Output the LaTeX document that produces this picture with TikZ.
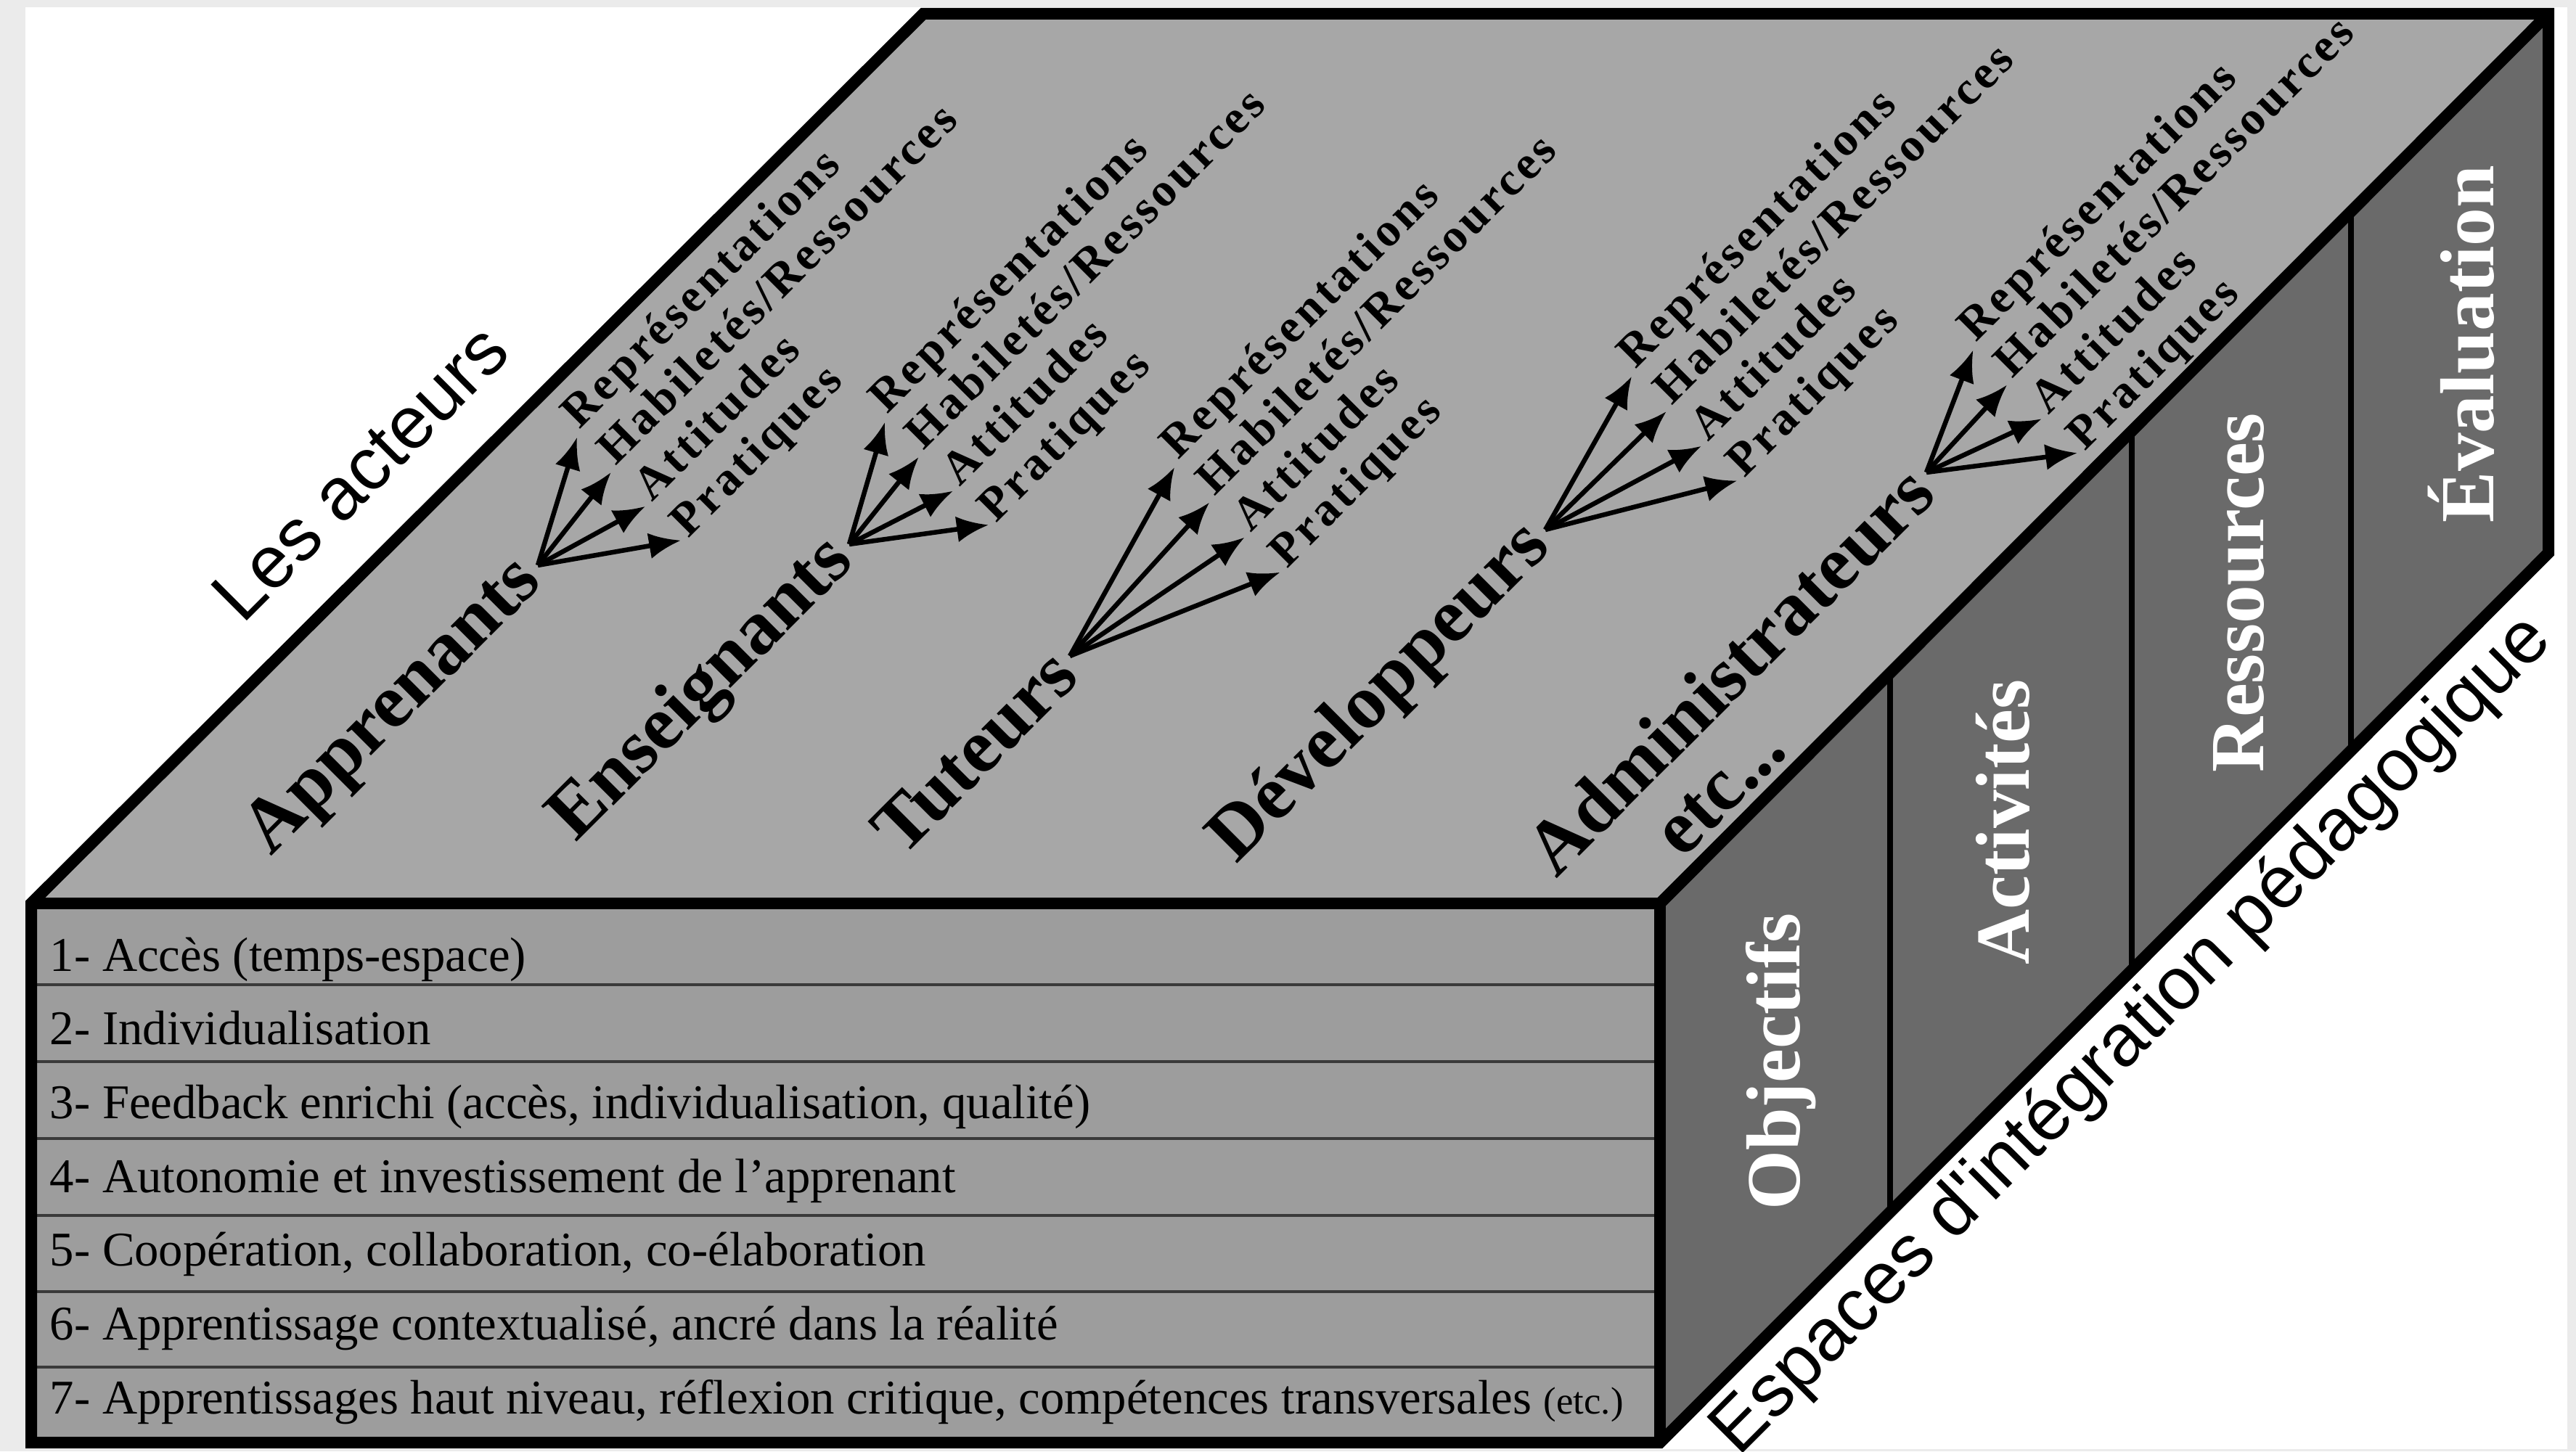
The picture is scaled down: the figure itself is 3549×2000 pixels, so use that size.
\documentclass[tikz,border=0pt]{standalone}
\usepackage{fontspec}
\setmainfont{Liberation Serif}
\newfontfamily\arialfont{Liberation Sans}
\newfontfamily\etiquette[LetterSpace=7]{Liberation Serif}
\usetikzlibrary{arrows.meta,calc}

\definecolor{fondgris}{HTML}{EBEBEB}
\definecolor{facehaut}{HTML}{A7A7A7}
\definecolor{faceavant}{HTML}{9D9D9D}
\definecolor{facecote}{HTML}{6A6A6A}
\definecolor{trait}{HTML}{3A3A3A}

\begin{document}
\begin{tikzpicture}[x=0.1mm,y=0.1mm]
		\newcommand{\basex}{2287} % front right edge

		% styles of the picture
		\tikzset{
			arete/.style={line width=1.6mm, line join=miter},
			separation/.style={line width=0.4mm, draw=trait},
			cloison/.style={line width=0.8mm},
			rangee/.style={anchor=base west, inner sep=0pt, font=\fontsize{19}{22}\selectfont},
			acteur/.style={rotate=45, anchor=east, font=\bfseries\fontsize{30}{34}\selectfont},
			facette/.style={rotate=45, anchor=base west, inner sep=0pt, font=\etiquette\bfseries\fontsize{18.5}{20}\selectfont},
			espace/.style={rotate=90, text=white, font=\bfseries\fontsize{30}{34}\selectfont},
			fleche/.style={-{Latex[length=4.4mm,width=3.6mm]}, line width=0.65mm, shorten >=1mm},
			titre/.style={rotate=45, font=\arialfont\fontsize{29}{32}\selectfont}
		}

		% one actor with its fan of four arrows
		\newcommand{\eventail}[4]{%
			\node[acteur] (#1) at (#3) {#2};
			\foreach \lab [count=\i] in {Représentations,Habiletés/Ressources,Attitudes,Pratiques}{
				\node[facette] (#1-\i) at ($(#4)+(\i*50-42,58-\i*50)$) {\lab};
				\draw[fleche] (#1.east) -- (#1-\i.base west);
			}
		}

		\useasboundingbox (0,0) rectangle (3549,2000);
		\fill[fondgris] (0,0) rectangle (3549,2000);
		\fill[white] (35,3) rectangle (3537,1990);

		% corners of the box
		\coordinate (A) at (43,12);
		\coordinate (B) at (\basex,12);
		\coordinate (C) at (\basex,755);
		\coordinate (D) at (43,755);
		\coordinate (E) at (1272,1981);
		\coordinate (F) at (3511,1981);
		\coordinate (G) at (3511,1238);

		% faces
		\fill[facehaut] (D) -- (C) -- (F) -- (E) -- cycle;
		\fill[faceavant] (A) -- (B) -- (C) -- (D) -- cycle;
		\fill[facecote] (B) -- (G) -- (F) -- (C) -- cycle;

		% rows of the front face
		\foreach \y in {643,537,431,325,220,116}
			\draw[separation] (43,\y) -- (\basex,\y);

		% columns of the side face
		\foreach \x in {2604,2937,3239}
			\draw[cloison] (\x,{755+\x-\basex}) -- (\x,{12+\x-\basex});

		% outline
		\draw[arete] (A) -- (B) -- (G) -- (F) -- (E) -- (D) -- cycle;
		\draw[arete] (D) -- (C) -- (B);
		\draw[arete] (C) -- (F);

		% front face texts
		\foreach \txt [count=\k] in {%
			{1- Accès (temps-espace)},
			{2- Individualisation},
			{3- Feedback enrichi (accès, individualisation, qualité)},
			{4- Autonomie et investissement de l’apprenant},
			{5- Coopération, collaboration, co-élaboration},
			{6- Apprentissage contextualisé, ancré dans la réalité},
			{7- Apprentissages haut niveau, réflexion critique, compétences transversales {\fontsize{15}{18}\selectfont(etc.)}}}
			\node[rangee] (r\k) at (68,{662-(\k-1)*101.7}) {\txt};

		% actors on the top face
		\eventail{app}{Apprenants}{741,1221}{790,1399}
		\eventail{ens}{Enseignants}{1170,1250}{1214,1420}
		\eventail{tut}{Tuteurs}{1474,1096}{1615,1357}
		\eventail{dev}{Développeurs}{2129,1270}{2245,1482}
		\eventail{adm}{Administrateurs}{2654,1349}{2714,1519}
		\node[acteur, anchor=center] (etc) at (2371,909) {etc...};

		% spaces on the side face
		\node[espace] (obj) at (2454,537) {Objectifs};
		\node[espace] (act) at (2759,867) {Activités};
		\node[espace] (res) at (3085,1183) {Ressources};
		\node[espace] (eva) at (3391,1526) {Évaluation};

		% titles along the edges
		\node[titre] (acteurs) at (496,1349) {Les acteurs};
		\node[titre] (espaces) at (2938,572) {Espaces d\textquotesingle intégration pédagogique};
\end{tikzpicture}
\end{document}
